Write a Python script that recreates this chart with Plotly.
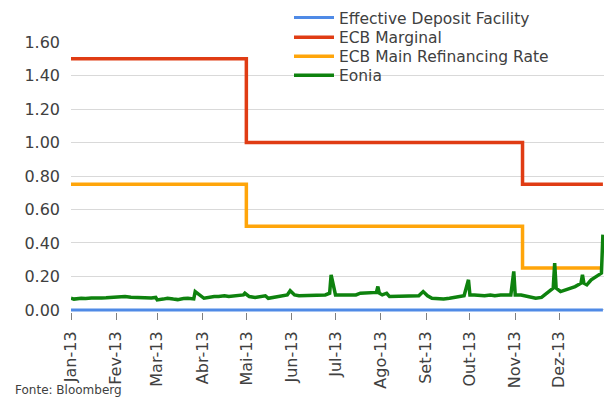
import plotly.graph_objects as go

# policy rates (step series)
deposit_dates = ['2013-01-01', '2013-12-31']
deposit_vals = [0.0, 0.0]

marginal_dates = ['2013-01-01', '2013-05-01', '2013-11-06', '2013-12-31']
marginal_vals = [1.50, 1.00, 0.75, 0.75]

mro_dates = ['2013-01-01', '2013-05-01', '2013-11-06', '2013-12-31']
mro_vals = [0.75, 0.50, 0.25, 0.25]

# Eonia
eonia_dates = [
    '2013-01-01', '2013-01-03', '2013-01-08', '2013-01-11', '2013-01-15', '2013-01-18',
    '2013-01-22', '2013-01-25', '2013-01-29', '2013-01-31',
    '2013-02-04', '2013-02-07', '2013-02-11', '2013-02-14', '2013-02-18', '2013-02-21',
    '2013-02-25', '2013-02-28',
    '2013-03-01', '2013-03-05', '2013-03-08', '2013-03-12', '2013-03-15', '2013-03-19',
    '2013-03-22', '2013-03-26', '2013-03-27', '2013-04-02',
    '2013-04-05', '2013-04-09', '2013-04-12', '2013-04-16', '2013-04-19', '2013-04-23',
    '2013-04-26', '2013-04-29', '2013-04-30',
    '2013-05-02', '2013-05-03', '2013-05-07', '2013-05-10', '2013-05-14', '2013-05-16',
    '2013-05-20', '2013-05-23', '2013-05-27', '2013-05-29', '2013-05-31',
    '2013-06-03', '2013-06-06', '2013-06-10', '2013-06-13', '2013-06-17', '2013-06-20',
    '2013-06-24', '2013-06-27', '2013-06-28',
    '2013-07-01', '2013-07-04', '2013-07-08', '2013-07-11', '2013-07-15', '2013-07-18',
    '2013-07-22', '2013-07-25', '2013-07-29', '2013-07-30', '2013-07-31',
    '2013-08-02', '2013-08-05', '2013-08-07', '2013-08-12', '2013-08-16', '2013-08-20',
    '2013-08-23', '2013-08-27', '2013-08-30',
    '2013-09-02', '2013-09-05', '2013-09-10', '2013-09-13', '2013-09-17', '2013-09-20',
    '2013-09-24', '2013-09-27', '2013-09-30',
    '2013-10-01', '2013-10-04', '2013-10-08', '2013-10-11', '2013-10-15', '2013-10-18',
    '2013-10-22', '2013-10-25', '2013-10-29', '2013-10-31',
    '2013-11-01', '2013-11-05', '2013-11-08', '2013-11-12', '2013-11-15', '2013-11-19',
    '2013-11-22', '2013-11-25', '2013-11-27', '2013-11-28', '2013-11-29',
    '2013-12-02', '2013-12-05', '2013-12-09', '2013-12-12', '2013-12-16', '2013-12-17',
    '2013-12-18', '2013-12-20', '2013-12-23', '2013-12-27', '2013-12-30', '2013-12-31',
]
eonia_vals = [
    0.070, 0.065, 0.070, 0.068, 0.072, 0.070,
    0.072, 0.073, 0.075, 0.080,
    0.078, 0.080, 0.076, 0.075, 0.072, 0.070,
    0.071, 0.075,
    0.060, 0.065, 0.070, 0.065, 0.062, 0.068,
    0.070, 0.066, 0.110, 0.070,
    0.075, 0.080, 0.080, 0.085, 0.080, 0.085,
    0.085, 0.090, 0.100,
    0.085, 0.080, 0.075, 0.080, 0.085, 0.070,
    0.075, 0.080, 0.085, 0.090, 0.115,
    0.090, 0.085, 0.085, 0.090, 0.085, 0.085,
    0.090, 0.100, 0.210,
    0.090, 0.090, 0.090, 0.095, 0.090, 0.100,
    0.100, 0.105, 0.105, 0.140, 0.100,
    0.090, 0.100, 0.080, 0.080, 0.080, 0.080,
    0.080, 0.085, 0.110,
    0.085, 0.070, 0.065, 0.065, 0.070, 0.075,
    0.080, 0.085, 0.180,
    0.090, 0.090, 0.085, 0.085, 0.090, 0.085,
    0.090, 0.090, 0.090, 0.230,
    0.090, 0.090, 0.085, 0.080, 0.070, 0.075,
    0.095, 0.120, 0.130, 0.280, 0.130,
    0.110, 0.120, 0.130, 0.140, 0.160, 0.210,
    0.160, 0.150, 0.180, 0.200, 0.220, 0.450,
]

month_ticks = ['2013-%02d-01' % m for m in range(1, 13)]
month_labels = ['Jan-13', 'Fev-13', 'Mar-13', 'Abr-13', 'Mai-13', 'Jun-13',
                'Jul-13', 'Ago-13', 'Set-13', 'Out-13', 'Nov-13', 'Dez-13']

TXT = '#404040'

fig = go.Figure()

fig.add_trace(go.Scatter(x=deposit_dates, y=deposit_vals, mode='lines',
                         name='Effective Deposit Facility', legend='legend',
                         line=dict(color='#4f8ae6', width=3)))
fig.add_trace(go.Scatter(x=marginal_dates, y=marginal_vals, mode='lines',
                         name='ECB Marginal', line_shape='hv', legend='legend2',
                         line=dict(color='#e03c14', width=3.5)))
fig.add_trace(go.Scatter(x=mro_dates, y=mro_vals, mode='lines',
                         name='ECB Main Refinancing Rate', line_shape='hv',
                         legend='legend3',
                         line=dict(color='#ffa50a', width=3.5)))
fig.add_trace(go.Scatter(x=eonia_dates, y=eonia_vals, mode='lines',
                         name='Eonia', legend='legend4',
                         line=dict(color='#0e820e', width=3.5)))

# white patch behind the legend hides the top gridlines
fig.add_shape(type='rect', xref='paper', yref='paper',
              x0=0.306, x1=1.0, y0=0.82, y1=1.0,
              fillcolor='white', line_width=0, layer='between')

fig.add_annotation(text='Fonte: Bloomberg', xref='paper', yref='paper',
                   x=-0.109, y=-0.289, xanchor='left', yanchor='middle',
                   showarrow=False,
                   font=dict(family='DejaVu Sans', size=12, color=TXT))


def leg(y):
    return dict(x=0.409, y=y, xanchor='left', yanchor='middle',
                bgcolor='rgba(0,0,0,0)', itemwidth=40,
                font=dict(size=15.5, color=TXT))


fig.update_layout(
    width=605, height=400,
    margin=dict(l=71, r=1, t=42, b=88, autoexpand=False),
    paper_bgcolor='white', plot_bgcolor='white',
    font=dict(family='DejaVu Sans', size=15, color=TXT),
    showlegend=True,
    legend=leg(1.089), legend2=leg(1.016), legend3=leg(0.946), legend4=leg(0.875),
    xaxis=dict(range=['2013-01-01', '2013-12-31 18:00'], tickvals=month_ticks,
               ticktext=month_labels, tickangle=-90, ticks='outside',
               ticklen=7, tickcolor='#808080', showgrid=False,
               showline=False, zeroline=False, ticklabelstandoff=5,
               tickfont=dict(size=16)),
    yaxis=dict(range=[-0.012, 1.6], tickvals=[0, 0.2, 0.4, 0.6, 0.8, 1.0, 1.2, 1.4, 1.6],
               tickformat='.2f', showgrid=True, gridcolor='#d9d9d9', gridwidth=1,
               zeroline=False, showline=False, ticks='', ticklabelstandoff=10,
               tickfont=dict(size=16)),
)

# drop the default page margin so the 605x400 figure fills the window
fig.write_html('out.html', config={'displayModeBar': False},
               post_script="document.body.style.margin='0';")
